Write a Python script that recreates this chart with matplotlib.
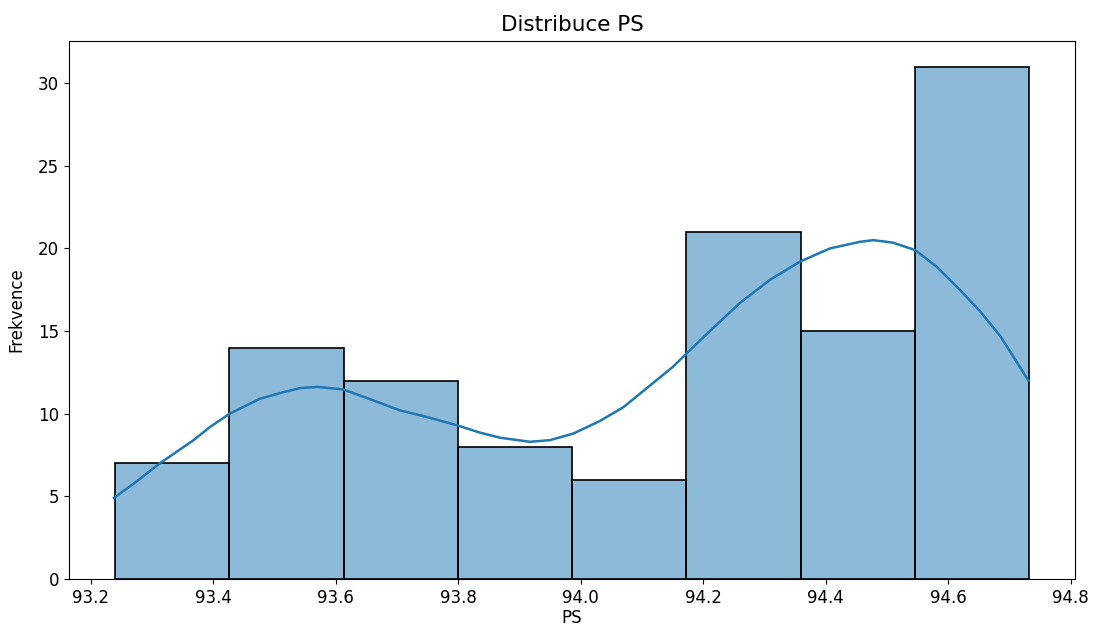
import numpy as np
import matplotlib
matplotlib.use("Agg")
import matplotlib.pyplot as plt

# histogram bins (PS) and counts
bin_left = [93.240, 93.4265, 93.613, 93.7995, 93.986, 94.1725, 94.359, 94.5455]
bin_width = 0.1865
counts = [7, 14, 12, 8, 6, 21, 15, 31]

# kde curve, read point by point
kde_x = [93.238, 93.275, 93.313, 93.368, 93.395, 93.427, 93.476, 93.514, 93.542, 93.570,
         93.612, 93.651, 93.705, 93.749, 93.798, 93.836, 93.868, 93.917, 93.950, 93.988,
         94.031, 94.070, 94.113, 94.151, 94.173, 94.211, 94.260, 94.309, 94.358, 94.407,
         94.456, 94.478, 94.510, 94.546, 94.581, 94.619, 94.652, 94.685, 94.709, 94.731]
kde_y = [4.9, 5.9, 7.0, 8.4, 9.2, 10.0, 10.9, 11.3, 11.55, 11.62,
         11.47, 10.95, 10.2, 9.8, 9.3, 8.85, 8.55, 8.3, 8.4, 8.8,
         9.55, 10.4, 11.7, 12.85, 13.65, 15.0, 16.7, 18.1, 19.2, 20.0,
         20.4, 20.5, 20.35, 19.9, 18.9, 17.5, 16.2, 14.7, 13.3, 12.0]

fig = plt.figure(figsize=(10.93, 6.27), dpi=100)
ax = fig.add_axes([0.0631, 0.0766, 0.9204, 0.858])

ax.bar(bin_left, counts, width=bin_width, align="edge",
       color="#1f77b4", alpha=0.5, edgecolor="none")
ax.bar(bin_left, counts, width=bin_width, align="edge",
       fill=False, edgecolor="black", linewidth=1.2)
ax.plot(kde_x, kde_y, color="#1f77b4", linewidth=1.8)

ax.set_xlim(93.1646, 94.807)
ax.set_ylim(0, 32.55)
ax.set_xticks(np.arange(93.2, 94.81, 0.2))
ax.set_yticks([0, 5, 10, 15, 20, 25, 30])
ax.tick_params(labelsize=12)

ax.set_title("Distribuce PS", fontsize=15.5, pad=7)
ax.set_xlabel("PS", fontsize=12, labelpad=2)
ax.set_ylabel("Frekvence", fontsize=12, labelpad=9)

fig.savefig("out.png", dpi=100)
